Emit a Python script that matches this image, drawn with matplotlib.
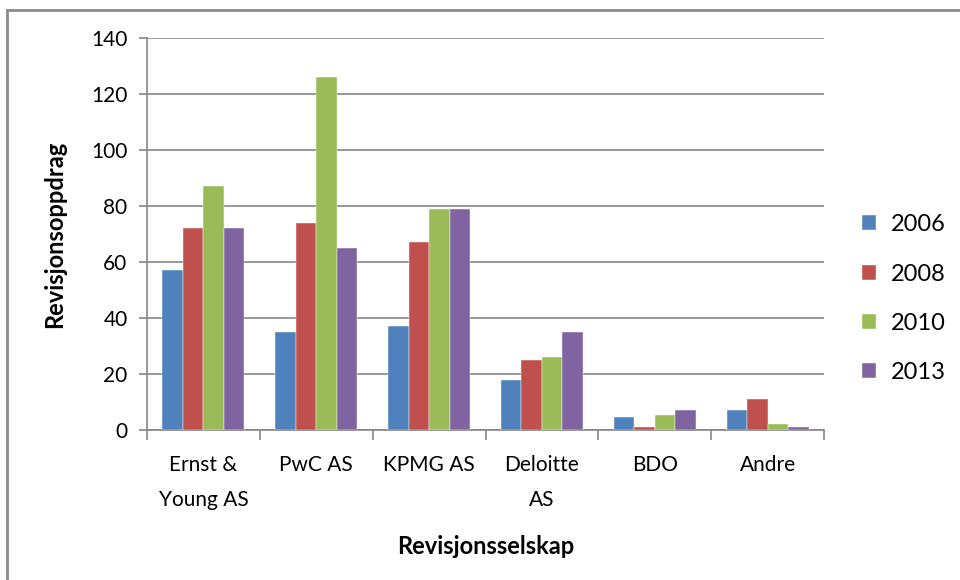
import numpy as np
import matplotlib.pyplot as plt
from matplotlib.lines import Line2D

plt.rcParams.update({
    "font.family": ["Lato", "DejaVu Sans"],
})
CL = {
    '2006': '#4F81BD',
    '2008': '#C0504D',
    '2010': '#9BBB59',
    '2013': '#8064A2',
}
GRID = '#878787'


""" Data """
companies = ['Ernst &\nYoung AS', 'PwC AS', 'KPMG AS', 'Deloitte\nAS', 'BDO', 'Andre']
years = ['2006', '2008', '2010', '2013']
v2006 = [57, 35, 37, 18, 4.5, 7]
v2008 = [72, 74, 67, 25, 1, 11]
v2010 = [87, 126, 79, 26, 5.5, 2]
v2013 = [72, 65, 79, 35, 7, 1]
series = [v2006, v2008, v2010, v2013]


""" Plot """
fig = plt.figure(figsize=(9.6, 5.8), dpi=100)
ax = fig.add_axes([147 / 960, 1 - 430 / 580, (824 - 147) / 960, (430 - 38) / 580])

x = np.arange(len(companies))
w = 0.182
for i, (yr, vals) in enumerate(zip(years, series)):
    ax.bar(x + (i - 1.5) * w, vals, w, color=CL[yr], label=yr, zorder=3,
           edgecolor='white', linewidth=0.3)

ax.set_xlim(-0.5, len(companies) - 0.5)
ax.set_ylim(0, 140)
ax.set_yticks(np.arange(0, 141, 20))
ax.yaxis.grid(True, color=GRID, lw=1.2, zorder=0)

ax.set_xticks(x)
ax.set_xticklabels(companies, fontsize=15, linespacing=1.95)
ax.set_xticks(np.arange(-0.5, len(companies), 1), minor=True)
ax.tick_params(axis='x', which='major', length=0, pad=18)
ax.tick_params(axis='x', which='minor', length=7, color=GRID, width=1.2)
ax.tick_params(axis='y', length=6, color=GRID, width=1.2, labelsize=15, pad=8)

for s in ['top', 'right']:
    ax.spines[s].set_visible(False)
for s in ['left', 'bottom']:
    ax.spines[s].set_color(GRID)
    ax.spines[s].set_linewidth(1.2)

ax.set_xlabel('Revisjonsselskap', fontsize=17, fontweight='bold', labelpad=18)
ax.set_ylabel('Revisjonsoppdrag', fontsize=17, fontweight='bold', labelpad=18)

ax.legend(loc='center left', bbox_to_anchor=(1.025, 0.335), frameon=False,
          fontsize=17, handlelength=0.6, handleheight=0.6, labelspacing=1.2,
          handletextpad=0.6)

# chart frame (cut off at right and bottom)
fig.add_artist(Line2D([7 / 960, 7 / 960], [0, 1 - 10 / 580], color='#8a8a8a', lw=2))
fig.add_artist(Line2D([7 / 960, 1], [1 - 10 / 580, 1 - 10 / 580], color='#8a8a8a', lw=2))

fig.savefig('out.png', dpi=100)
